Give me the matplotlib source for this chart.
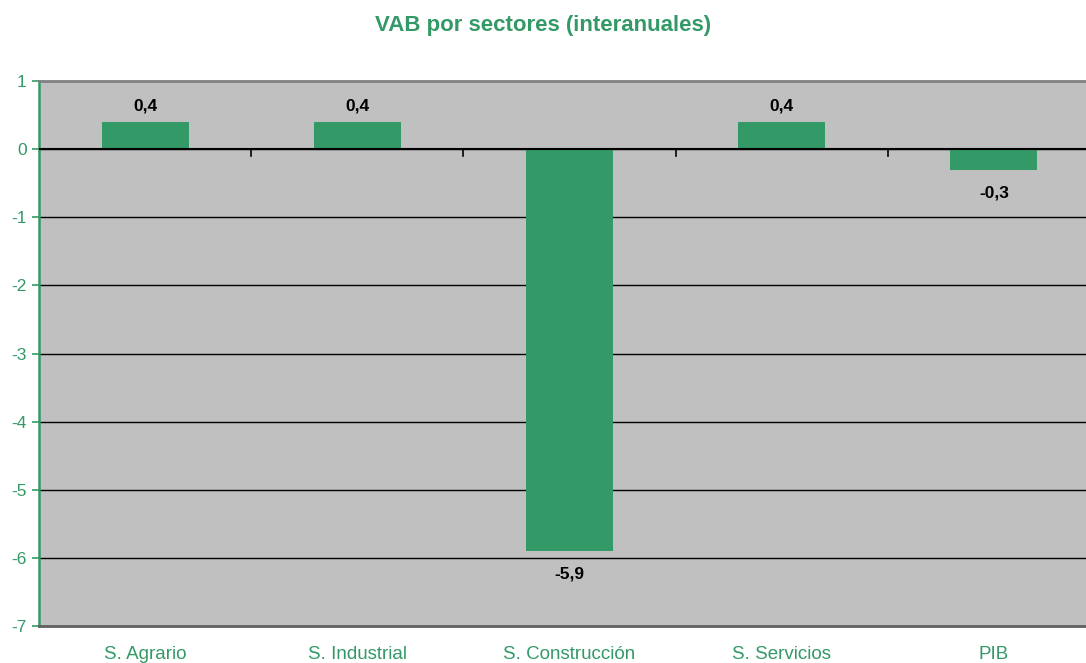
import matplotlib
matplotlib.use('Agg')
import matplotlib.pyplot as plt
import numpy as np

plt.rcParams['font.family'] = ['Liberation Sans', 'DejaVu Sans']

sectores = ['S. Agrario', 'S. Industrial', 'S. Construcción', 'S. Servicios', 'PIB']
valores = [0.4, 0.4, -5.9, 0.4, -0.3]
etiquetas = ['0,4', '0,4', '-5,9', '0,4', '-0,3']

verde = '#339966'
gris = '#C0C0C0'

fig = plt.figure(figsize=(10.86, 6.63), dpi=100)
# el area del grafico sigue un poco mas alla del borde derecho
ax = fig.add_axes([39 / 1086, 1 - 626 / 663, (1100 - 39) / 1086, (626 - 81) / 663])
ax.set_facecolor(gris)

x = np.arange(len(sectores))
ax.bar(x, valores, width=0.41, color=verde, zorder=3)

ax.set_xlim(-0.5, len(sectores) - 0.5)
ax.set_ylim(-7, 1)
ax.set_yticks(range(-7, 2))
ax.set_yticklabels([str(v) for v in range(-7, 2)])

# lineas de division
for v in range(-6, 1):
    ax.axhline(v, color='black', lw=1, zorder=2)
ax.axhline(0, color='black', lw=1.5, zorder=4)

# marcas de categoria sobre el eje cero
for b in np.arange(0.5, len(sectores) - 0.5):
    ax.plot([b, b], [0, -0.1], color='black', lw=1.2, zorder=4)

# etiquetas de valor
for xi, v, t in zip(x, valores, etiquetas):
    if v >= 0:
        ax.text(xi, v + 0.24, t, ha='center', va='center', fontsize=12.5, fontweight='bold')
    else:
        ax.text(xi, v - 0.34, t, ha='center', va='center', fontsize=12.5, fontweight='bold')

ax.set_xticks(x)
ax.set_xticklabels(sectores)
ax.tick_params(axis='x', length=0, colors=verde, labelsize=13.5, pad=14.5)
ax.tick_params(axis='y', length=5, colors=verde, labelsize=12.5, width=1.2, pad=4)

ax.spines['left'].set_color(verde)
ax.spines['left'].set_linewidth(1.8)
ax.spines['top'].set_color('#808080')
ax.spines['top'].set_linewidth(2)
ax.spines['bottom'].set_color('#606060')
ax.spines['bottom'].set_linewidth(2)
ax.spines['right'].set_visible(False)

fig.text(0.5, 1 - 26 / 663, 'VAB por sectores (interanuales)', ha='center', va='center',
         fontsize=16, fontweight='bold', color=verde)

fig.savefig('out.png', dpi=100)
